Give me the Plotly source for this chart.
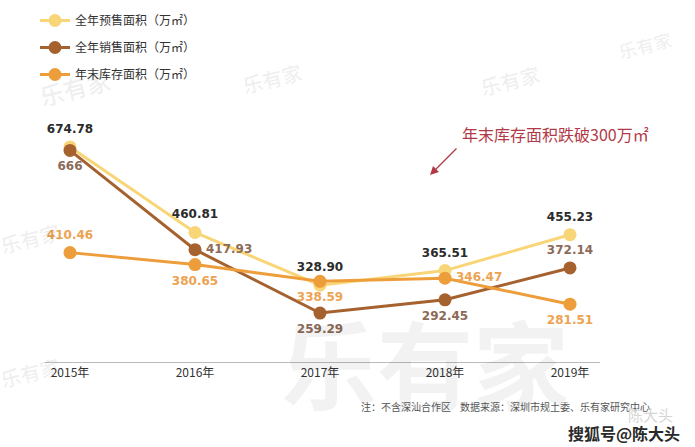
import plotly.graph_objects as go

years = ["2015年", "2016年", "2017年", "2018年", "2019年"]
presale = [674.78, 460.81, 328.90, 365.51, 455.23]
sales = [666, 417.93, 259.29, 292.45, 372.14]
stock = [410.46, 380.65, 338.59, 346.47, 281.51]
presale_labels = ["674.78", "460.81", "328.90", "365.51", "455.23"]
sales_labels = ["666", "417.93", "259.29", "292.45", "372.14"]
stock_labels = ["410.46", "380.65", "338.59", "346.47", "281.51"]
names = ["全年预售面积（万㎡）", "全年销售面积（万㎡）", "年末库存面积（万㎡）"]

C_YEL = "#F8D577"
C_BRN = "#A5612E"
C_ORG = "#EE9D3B"

W, H = 695, 447
ML, MR, MT, MB = 45, 95, 100, 85
PW, PH = W - ML - MR, H - MT - MB


def px(x):
    return (x - ML) / PW


def py(y):
    return 1 - (y - MT) / PH


idx = list(range(len(years)))
cjk = "Noto Sans CJK SC"
numfont = "DejaVu Sans"

fig = go.Figure()


def note(x, y, text, font, **kw):
    fig.add_annotation(x=px(x), y=py(y), xref="paper", yref="paper", text=text,
                       xanchor="center", yanchor="middle", showarrow=False, font=font, **kw)


for (wx, wy, s) in [(75, 88, 24), (272, 78, 20), (510, 80, 20), (645, 45, 18),
                    (30, 238, 20), (30, 372, 20)]:
    note(wx, wy, "<b>乐有家</b>", dict(family=cjk, size=s, color="rgba(0,0,0,0.06)"), textangle=-14)
note(425, 360, "<b>乐有家</b>", dict(family=cjk, size=96, color="rgba(0,0,0,0.05)"))

series = [
    (presale, presale_labels, C_YEL, names[0], "#2b2b2b",
     ["top center", "top center", "top center", "top center", "top center"]),
    (sales, sales_labels, C_BRN, names[1], "#8C6A58",
     ["bottom center", "middle right", "bottom center", "bottom center", "top center"]),
    (stock, stock_labels, C_ORG, names[2], "#ECA352",
     ["top center", "bottom center", "bottom center", "middle right", "bottom center"]),
]

for i, (vals, labs, col, nm, tcol, pos) in enumerate(series):
    fig.add_trace(go.Scatter(
        x=idx, y=vals, mode="lines+markers", name=nm, legendgroup=str(i),
        line=dict(color=col, width=3), marker=dict(color=col, size=13),
        hoverinfo="skip",
    ))

for i, (vals, labs, col, nm, tcol, pos) in enumerate(series):
    fig.add_trace(go.Scatter(
        x=idx, y=vals, mode="markers+text", text=["<b>%s</b>" % t for t in labs], textposition=pos,
        marker=dict(size=16, opacity=0),
        textfont=dict(family=numfont, size=12, color=tcol), showlegend=False, hoverinfo="skip",
        cliponaxis=False,
    ))

note(555, 134, "年末库存面积跌破300万㎡", dict(family=cjk, size=16, color="#B23A48"))
fig.add_annotation(x=px(430), y=py(175), xref="paper", yref="paper",
                   ax=28, ay=-28, axref="pixel", ayref="pixel",
                   text="", showarrow=True, arrowhead=2, arrowsize=1.3, arrowwidth=1.3,
                   arrowcolor="#B23A48")

note(505, 406, "注：不含深汕合作区    数据来源：深圳市规土委、乐有家研究中心",
     dict(family=cjk, size=10, color="#555555"))
note(650, 414, "陈大头", dict(family=cjk, size=15, color="#D6D6D6"))
note(624, 433, "<b>搜狐号@陈大头</b>", dict(family=cjk, size=16, color="#2a2a2a"))

fig.update_layout(
    width=W, height=H,
    margin=dict(l=ML, r=MR, t=MT, b=MB, autoexpand=False),
    paper_bgcolor="white", plot_bgcolor="white",
    showlegend=True,
    legend=dict(x=35 / W, y=1 - 6 / H, xref="container", yref="container",
                xanchor="left", yanchor="top", traceorder="grouped", tracegroupgap=8,
                font=dict(family=cjk, size=12, color="#333333"), bgcolor="rgba(0,0,0,0)"),
    xaxis=dict(range=[-0.2, 4.24], tickvals=idx, ticktext=years, showgrid=False, zeroline=False,
               showline=True, linecolor="#BBBBBB", linewidth=1, ticks="",
               tickfont=dict(family=cjk, size=12, color="#333333"), fixedrange=True),
    yaxis=dict(range=[137, 792], visible=False, showgrid=False, zeroline=False, fixedrange=True),
)

fig.write_html("out.html")
